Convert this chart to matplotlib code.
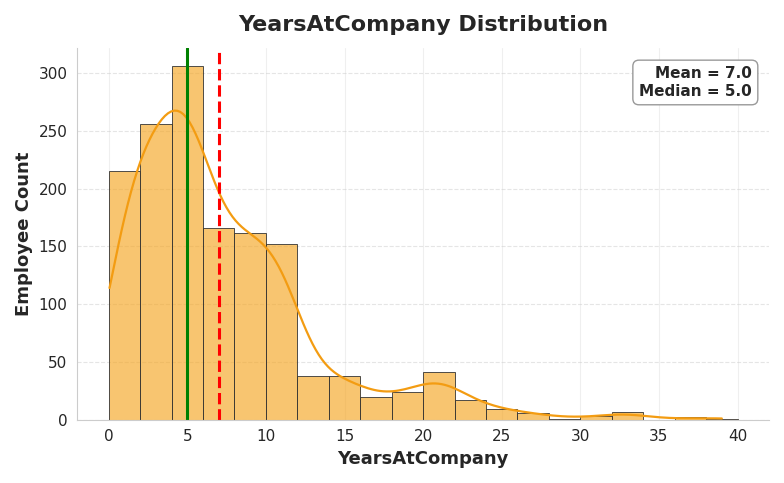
import numpy as np
import matplotlib
matplotlib.use("Agg")
import matplotlib.pyplot as plt
import seaborn as sns

bin_edges = list(range(0, 42, 2))
bin_counts = [215, 256, 306, 166, 162, 152, 38, 38, 20, 24,
              41, 17, 9, 6, 1, 3, 7, 0, 2, 1]
mean_val = 7.0
median_val = 5.0

# spread each bin's count over its width to rebuild the raw values
years = []
for lo, n in zip(bin_edges[:-1], bin_counts):
    if n:
        years.extend(np.linspace(lo + 0.05, lo + 1.95, n) if n > 1 else [lo + 1.0])
years = np.array(years)

sns.set_style("whitegrid")
fig, ax = plt.subplots(figsize=(7.84, 4.83), dpi=100)
sns.histplot(years, bins=bin_edges, kde=True, color="#f5a623", alpha=0.65,
             edgecolor="#333333", linewidth=0.6, ax=ax,
             line_kws={"linewidth": 1.6})
ax.lines[0].set_color("#f39c12")
ax.axvline(median_val, color="green", linewidth=2.2)
ax.axvline(mean_val, color="red", linewidth=2.2, linestyle="--")

ax.set_title("YearsAtCompany Distribution", fontsize=16, fontweight="bold", pad=12, color="#262626")
ax.set_xlabel("YearsAtCompany", fontsize=13, fontweight="bold", color="#262626")
ax.set_ylabel("Employee Count", fontsize=13, fontweight="bold", color="#262626")
ax.set_xticks(range(0, 41, 5))
ax.set_xlim(-2, 42)
ax.set_ylim(0, 322)
ax.tick_params(labelsize=11)
ax.grid(axis="y", linestyle="--", alpha=0.5)
ax.grid(axis="x", alpha=0.3)
for s in ["top", "right"]:
    ax.spines[s].set_visible(False)
for s in ["left", "bottom"]:
    ax.spines[s].set_color("#cccccc")

ax.text(0.975, 0.95, f"Mean = {mean_val:.1f}\nMedian = {median_val:.1f}",
        transform=ax.transAxes, ha="right", va="top", fontsize=11, fontweight="bold",
        bbox=dict(boxstyle="round,pad=0.4", facecolor="white", edgecolor="#999999"))

plt.tight_layout()
plt.savefig("out.png", dpi=100)
